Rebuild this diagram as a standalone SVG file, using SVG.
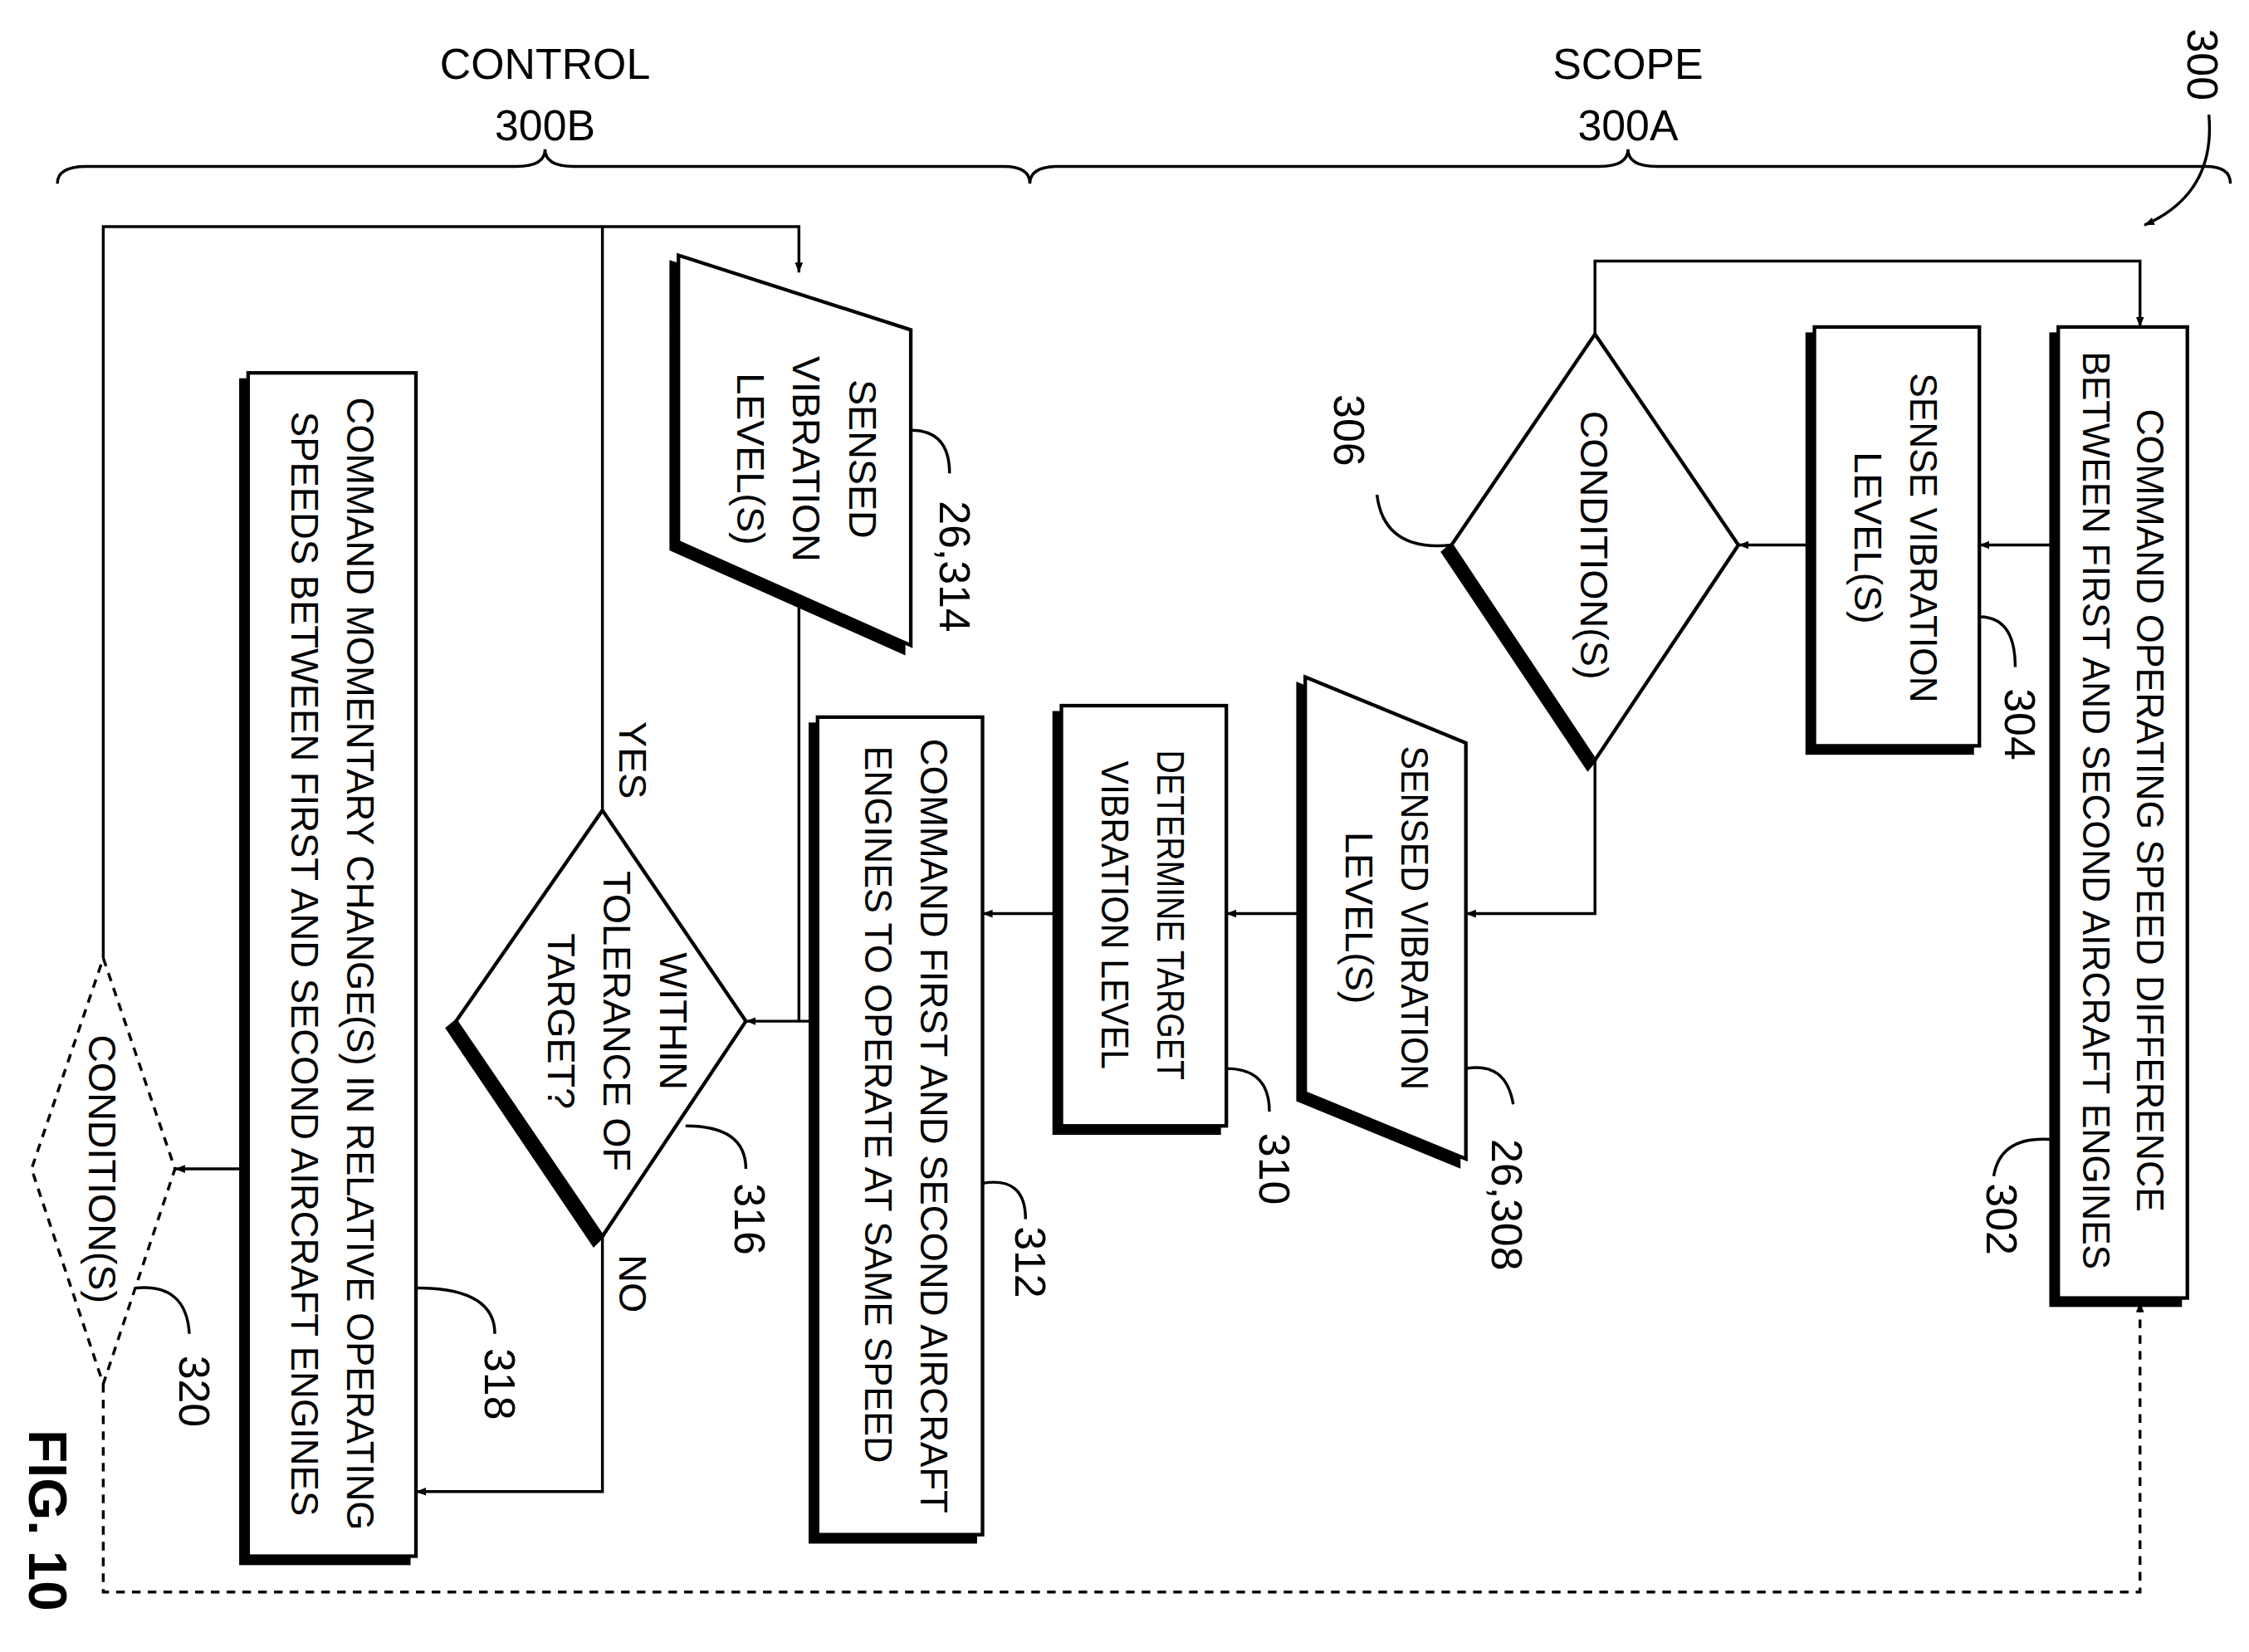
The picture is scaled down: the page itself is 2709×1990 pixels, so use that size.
<svg xmlns="http://www.w3.org/2000/svg" width="2709" height="1990" viewBox="0 0 2709 1990">
<defs>
<marker id="ah" viewBox="0 0 10 10" refX="10" refY="5" markerWidth="7" markerHeight="7" markerUnits="userSpaceOnUse" orient="auto"><path d="M0,1 L10,5 L0,9 z" fill="#000"/></marker>
<style>
.b{fill:#fff;stroke:#000;stroke-width:2.5}
.s{fill:#000;stroke:#000;stroke-width:2.5}
.l{fill:none;stroke:#000;stroke-width:2}
.d{fill:none;stroke:#000;stroke-width:2;stroke-dasharray:6,5}
.t{font-family:"Liberation Sans",Arial,sans-serif;font-size:27px;text-anchor:middle}
.r{font-family:"Liberation Sans",Arial,sans-serif;font-size:30px;text-anchor:middle}
</style>
</defs>
<rect width="2709" height="1990" fill="#fff"/>
<g transform="scale(1.7277)">
<g id="brace">
<path class="l" d="M40,128 Q40,116 60,116 L360,116 Q380,116 380,104 Q380,116 400,116 L700,116 Q718,116 718,128 Q718,116 738,116 L1115,116 Q1135,116 1135,104 Q1135,116 1155,116 L1538,116 Q1555,116 1555,128"/>
<text class="r" x="380" y="55">CONTROL</text><text class="r" x="380" y="98">300B</text>
<text class="r" x="1135" y="55">SCOPE</text><text class="r" x="1135" y="98">300A</text>
<text class="r" transform="translate(1525,45) rotate(90)">300</text>
<path class="l" d="M1540,80 Q1545,135 1495,157" marker-end="url(#ah)"/>
</g>
<g id="connectors">
<path class="l" d="M1435,380 L1380,380" marker-end="url(#ah)"/>
<path class="l" d="M1265,380 L1212,380" marker-end="url(#ah)"/>
<path class="l" d="M1112,233 L1112,182 L1492,182 L1492,228" marker-end="url(#ah)"/>
<path class="l" d="M1112,530 L1112,637 L1022,637" marker-end="url(#ah)"/>
<path class="l" d="M910,637 L855,637" marker-end="url(#ah)"/>
<path class="l" d="M740,637 L685,637" marker-end="url(#ah)"/>
<path class="l" d="M570,712 L520,712" marker-end="url(#ah)"/>
<path class="l" d="M557,420 L557,712"/>
<path class="l" d="M420,565 L420,158"/>
<path class="l" d="M72,668 L72,158 L557,158 L557,190" marker-end="url(#ah)"/>
<path class="l" d="M420,862 L420,1040 L290,1040" marker-end="url(#ah)"/>
<path class="l" d="M173,815 L122,815" marker-end="url(#ah)"/>
<path class="d" d="M72,965 L72,1110 L1492,1110 L1492,908" marker-end="url(#ah)"/>
</g>
<g id="n302">
<rect class="s" x="1430" y="233" width="90" height="677"/><rect class="b" x="1435" y="228" width="90" height="677"/>
<text class="t" transform="translate(1490,565) rotate(90)" textLength="560" lengthAdjust="spacingAndGlyphs">COMMAND OPERATING SPEED DIFFERENCE</text>
<text class="t" transform="translate(1452,565) rotate(90)" textLength="640" lengthAdjust="spacingAndGlyphs">BETWEEN FIRST AND SECOND AIRCRAFT ENGINES</text>
<path class="l" d="M1435,795 Q1395,790 1390,820"/><text class="r" transform="translate(1385,850) rotate(90)">302</text>
</g>
<g id="n304">
<rect class="s" x="1260" y="233" width="115" height="292"/><rect class="b" x="1265" y="228" width="115" height="292"/>
<text class="t" transform="translate(1332,375) rotate(90)" textLength="230" lengthAdjust="spacingAndGlyphs">SENSE VIBRATION</text>
<text class="t" transform="translate(1293,375) rotate(90)">LEVEL(S)</text>
<path class="l" d="M1380,430 Q1405,430 1405,465"/><text class="r" transform="translate(1398,505) rotate(90)">304</text>
</g>
<g id="n306">
<path class="s" d="M1012,380 L1112,530 L1107,536 L1006,385 z"/>
<path class="b" d="M1112,233 L1212,380 L1112,530 L1012,380 z"/>
<text class="t" transform="translate(1102,380) rotate(90)">CONDITION(S)</text>
<path class="l" d="M1012,380 Q965,385 960,345"/><text class="r" transform="translate(930,300) rotate(90)">306</text>
</g>
<g id="n308">
<path class="s" d="M905,477 L905,767 L1017,813 L1017,523 z"/>
<path class="b" d="M910,472 L1022,518 L1022,808 L910,762 z"/>
<text class="t" transform="translate(977,640) rotate(90)" textLength="240" lengthAdjust="spacingAndGlyphs">SENSED VIBRATION</text>
<text class="t" transform="translate(938,640) rotate(90)">LEVEL(S)</text>
<path class="l" d="M1022,745 Q1050,740 1055,770"/><text class="r" transform="translate(1040,840) rotate(90)">26,308</text>
</g>
<g id="n310">
<rect class="s" x="735" y="497" width="115" height="293"/><rect class="b" x="740" y="492" width="115" height="293"/>
<text class="t" transform="translate(807,638) rotate(90)" textLength="230" lengthAdjust="spacingAndGlyphs">DETERMINE TARGET</text>
<text class="t" transform="translate(768,638) rotate(90)" textLength="215" lengthAdjust="spacingAndGlyphs">VIBRATION LEVEL</text>
<path class="l" d="M855,745 Q885,745 885,775"/><text class="r" transform="translate(878,815) rotate(90)">310</text>
</g>
<g id="n312">
<rect class="s" x="565" y="505" width="115" height="570"/><rect class="b" x="570" y="500" width="115" height="570"/>
<text class="t" transform="translate(642,785) rotate(90)" textLength="540" lengthAdjust="spacingAndGlyphs">COMMAND FIRST AND SECOND AIRCRAFT</text>
<text class="t" transform="translate(603,770) rotate(90)" textLength="500" lengthAdjust="spacingAndGlyphs">ENGINES TO OPERATE AT SAME SPEED</text>
<path class="l" d="M685,825 Q715,820 715,850"/><text class="r" transform="translate(708,880) rotate(90)">312</text>
</g>
<g id="n314">
<path class="s" d="M468,183 L468,383 L630,455 L630,235 z"/>
<path class="b" d="M473,178 L635,230 L635,450 L473,378 z"/>
<text class="t" transform="translate(592,320) rotate(90)">SENSED</text>
<text class="t" transform="translate(553,320) rotate(90)">VIBRATION</text>
<text class="t" transform="translate(514,320) rotate(90)">LEVEL(S)</text>
<path class="l" d="M635,300 Q662,300 662,330"/><text class="r" transform="translate(655,395) rotate(90)">26,314</text>
</g>
<g id="n316">
<path class="s" d="M318,712 L420,862 L414,868 L312,717 z"/>
<path class="b" d="M420,565 L520,712 L420,862 L318,712 z"/>
<text class="t" transform="translate(460,712) rotate(90)">WITHIN</text>
<text class="t" transform="translate(421,712) rotate(90)">TOLERANCE OF</text>
<text class="t" transform="translate(382,712) rotate(90)">TARGET?</text>
<path class="l" d="M478,785 Q520,785 520,815"/><text class="r" transform="translate(512,850) rotate(90)">316</text>
<text class="t" transform="translate(432,530) rotate(90)">YES</text>
<text class="t" transform="translate(432,895) rotate(90)">NO</text>
</g>
<g id="n318">
<rect class="s" x="168" y="265" width="117" height="825"/><rect class="b" x="173" y="260" width="117" height="825"/>
<text class="t" transform="translate(242,672) rotate(90)" textLength="790" lengthAdjust="spacingAndGlyphs">COMMAND MOMENTARY CHANGE(S) IN RELATIVE OPERATING</text>
<text class="t" transform="translate(203,672) rotate(90)" textLength="770" lengthAdjust="spacingAndGlyphs">SPEEDS BETWEEN FIRST AND SECOND AIRCRAFT ENGINES</text>
<path class="l" d="M290,898 Q345,898 345,930"/><text class="r" transform="translate(338,965) rotate(90)">318</text>
</g>
<g id="n320">
<path class="d" d="M72,668 L122,815 L72,965 L22,815 z"/>
<text class="t" transform="translate(62,815) rotate(90)">CONDITION(S)</text>
<path class="l" d="M95,898 Q130,895 132,930"/><text class="r" transform="translate(125,970) rotate(90)">320</text>
</g>
<text transform="translate(20,1060) rotate(90)" style="font-family:'Liberation Sans',Arial,sans-serif;font-size:38px;font-weight:bold;text-anchor:middle">FIG. 10</text>
</g>
</svg>
